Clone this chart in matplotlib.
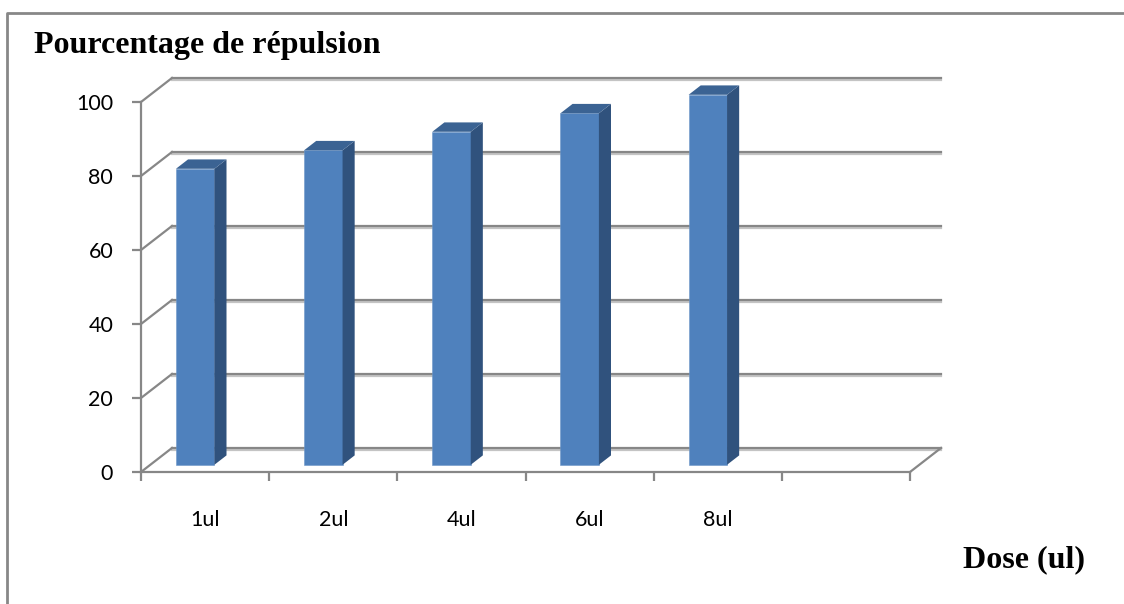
import numpy as np
import matplotlib
matplotlib.use("Agg")
import matplotlib.pyplot as plt
from matplotlib.patches import Polygon
from matplotlib.lines import Line2D
import matplotlib.patheffects as pe

# data
doses = ["1ul", "2ul", "4ul", "6ul", "8ul", ""]
repulsion = [80, 85, 90, 95, 100]
yticks = [0, 20, 40, 60, 80, 100]

W, H = 1124, 604
GRID = "#878787"
FRONT = "#4F81BD"
SIDE = "#30527D"
TOP = "#3B6393"

# 3d look: depth of the wall in data units
DX = 31 / 128.0
DY = 6.5
f0, f1 = 0.3, 0.69   # bar depth (fraction of wall depth)
bar_w = 0.3
bar_off = 0.2

fig = plt.figure(figsize=(W / 100, H / 100), dpi=100)
ax = fig.add_axes([141 / W, 1 - 472 / H, (910 - 141) / W, 370 / H])
ax.set_xlim(0, len(doses))
ax.set_ylim(0, 100)

# outer frame
fig.add_artist(Line2D([7 / W, 7 / W, 1], [0, 1 - 13 / H, 1 - 13 / H],
                      transform=fig.transFigure, color=GRID, lw=2))

# back wall gridlines + diagonals
shadow = [pe.SimpleLineShadow(offset=(0, -1.2), shadow_color="#c4c4c4", alpha=1), pe.Normal()]
for v in yticks:
    ax.plot([DX, len(doses) + DX], [v + DY, v + DY], color=GRID, lw=1.6,
            clip_on=False, zorder=1, path_effects=shadow)
    ax.plot([0, DX], [v, v + DY], color=GRID, lw=1.6, clip_on=False, zorder=1)
ax.plot([len(doses), len(doses) + DX], [0, DY], color=GRID, lw=1.6, clip_on=False, zorder=1)

# bars
n = len(repulsion)
xs = np.arange(n) + bar_off + f0 * DX
base = f0 * DY
bars = ax.bar(xs, repulsion, width=bar_w, bottom=base, align="edge", color=FRONT,
              edgecolor="#6d97c9", linewidth=0.4, zorder=3)
for b in bars:
    b.set_clip_on(False)
dd_x = (f1 - f0) * DX
dd_y = (f1 - f0) * DY
for x0, v in zip(xs, repulsion):
    x1 = x0 + bar_w
    top = base + v
    ax.add_patch(Polygon([(x1, base), (x1 + dd_x, base + dd_y), (x1 + dd_x, top + dd_y), (x1, top)],
                         closed=True, facecolor=SIDE, edgecolor="none", zorder=3, clip_on=False))
    ax.add_patch(Polygon([(x0, top), (x1, top), (x1 + dd_x, top + dd_y), (x0 + dd_x, top + dd_y)],
                         closed=True, facecolor=TOP, edgecolor="none", zorder=3, clip_on=False))

# axes styling
for s in ["top", "right"]:
    ax.spines[s].set_visible(False)
for s in ["left", "bottom"]:
    ax.spines[s].set_color(GRID)
    ax.spines[s].set_linewidth(1.6)
    ax.spines[s].set_zorder(2)

ax.set_yticks(yticks)
ax.set_yticklabels([str(v) for v in yticks], fontsize=15.5, family="Lato")
ax.tick_params(axis="y", length=6.5, width=1.6, color=GRID, pad=13.5)

ax.set_xticks(np.arange(len(doses) + 1))
ax.set_xticklabels([])
ax.tick_params(axis="x", which="major", length=6.5, width=1.6, color=GRID, direction="out")
ax.set_xticks(np.arange(len(doses)) + 0.5, minor=True)
ax.set_xticklabels(doses, minor=True, fontsize=15.5, family="Lato")
ax.tick_params(axis="x", which="minor", length=0, pad=27)
ax.set_facecolor("none")

fig.text(34 / W, 1 - 46 / H, "Pourcentage de répulsion", family="Liberation Serif",
         fontweight="bold", fontsize=23, va="center", ha="left")
fig.text(963 / W, 1 - 560 / H, "Dose (ul)", family="Liberation Serif",
         fontweight="bold", fontsize=23, va="center", ha="left")

fig.savefig("out.png", dpi=100)
